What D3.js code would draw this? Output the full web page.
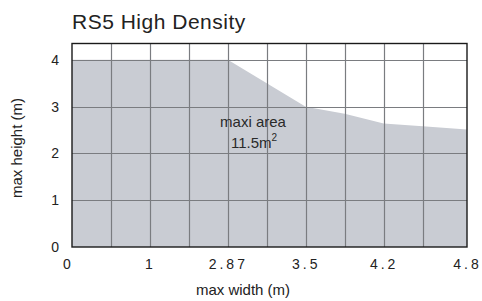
<!DOCTYPE html>
<html>
<head>
<meta charset="utf-8">
<script src="https://cdn.jsdelivr.net/npm/d3@7"></script>
<style>
  body { margin: 0; background: #fff; }
  svg { display: block; font-family: "Liberation Sans", Arial, sans-serif; }
</style>
</head>
<body>
<div id="chart"></div>
<script>
// grid columns are in "cell" units; the last column is a bit wider than the rest
var profileX = [0, 4, 6, 7, 8, 9, 10.14];
var profileY = [4, 4, 3.0, 2.85, 2.64, 2.58, 2.51];

var xTickPos = [0, 2, 4, 6, 8, 10.14];
var xTickLabels = ['0', '1', '2.87', '3.5', '4.2', '4.8'];
var yTicks = [0, 1, 2, 3, 4];
var xGrid = [1, 2, 3, 4, 5, 6, 7, 8, 9];
var yGrid = [1, 2, 3, 4];

var W = 482, H = 301;
var margin = {top: 43.5, right: 15, bottom: 54, left: 72};

var svg = d3.select('#chart').append('svg')
    .attr('width', W)
    .attr('height', H);

var x = d3.scaleLinear()
    .domain([0, 10.14])
    .range([margin.left, W - margin.right]);

var y = d3.scaleLinear()
    .domain([0, 4.35])
    .range([H - margin.bottom, margin.top]);

svg.append('text')
    .attr('x', 72)
    .attr('y', 29)
    .attr('font-size', '21px')
    .attr('letter-spacing', '0.5px')
    .attr('fill', '#222')
    .text('RS5 High Density');

var pts = profileX.map((d, i) => ({x: d, y: profileY[i]}));

var area = d3.area()
    .x(d => x(d.x))
    .y0(y(0))
    .y1(d => y(d.y));

svg.append('path')
    .datum(pts)
    .attr('fill', '#c9ccd3')
    .attr('d', area);

var grid = svg.append('g').attr('class', 'grid');

grid.selectAll('.vx')
    .data(xGrid)
  .enter().append('line')
    .attr('class', 'vx')
    .attr('x1', d => Math.round(x(d)) + 0.5)
    .attr('x2', d => Math.round(x(d)) + 0.5)
    .attr('y1', y.range()[1])
    .attr('y2', y.range()[0])
    .style('stroke', '#7a7c80')
    .style('stroke-width', 1.2);

grid.selectAll('.hy')
    .data(yGrid)
  .enter().append('line')
    .attr('class', 'hy')
    .attr('x1', x.range()[0])
    .attr('x2', x.range()[1])
    .attr('y1', d => Math.round(y(d)) + 0.5)
    .attr('y2', d => Math.round(y(d)) + 0.5)
    .style('stroke', '#7a7c80')
    .style('stroke-width', 1.2);

svg.append('rect')
    .attr('x', x.range()[0])
    .attr('y', y.range()[1])
    .attr('width', x.range()[1] - x.range()[0])
    .attr('height', y.range()[0] - y.range()[1])
    .attr('fill', 'none')
    .style('stroke', '#1a1a1a')
    .style('stroke-width', 1.4);

// axes: only labels are drawn, the frame above plays the axis line
var yAxis = svg.append('g')
    .attr('transform', 'translate(' + (margin.left - 13) + ',0)')
    .call(d3.axisLeft(y).tickValues(yTicks).tickSize(0).tickPadding(0)
        .tickFormat(d3.format('d')));
yAxis.select('.domain').remove();
yAxis.selectAll('text')
    .attr('font-family', '"Liberation Sans", Arial, sans-serif')
    .attr('font-size', '14px')
    .attr('fill', '#222');

var xAxis = svg.append('g')
    .attr('transform', 'translate(0,' + (H - margin.bottom + 12) + ')')
    .call(d3.axisBottom(x).tickValues(xTickPos).tickSize(0).tickPadding(0)
        .tickFormat((d, i) => xTickLabels[i]));
xAxis.select('.domain').remove();
xAxis.selectAll('text')
    .attr('font-family', '"Liberation Sans", Arial, sans-serif')
    .attr('font-size', '14px')
    .attr('letter-spacing', '3px')
    .attr('fill', '#222');
xAxis.selectAll('.tick').filter((d, i) => i === 0)
    .select('text').attr('dx', '-4');

svg.append('text')
    .attr('x', 243)
    .attr('y', 295)
    .attr('text-anchor', 'middle')
    .attr('font-size', '15px')
    .attr('fill', '#222')
    .text('max width (m)');

svg.append('text')
    .attr('transform', 'translate(22,' + 148 + ') rotate(-90)')
    .attr('text-anchor', 'middle')
    .attr('font-size', '15px')
    .attr('fill', '#222')
    .text('max height (m)');

var note = svg.append('text')
    .attr('text-anchor', 'middle')
    .attr('font-size', '15px')
    .attr('fill', '#2a2a2a');
note.append('tspan')
    .attr('x', 253)
    .attr('y', 127)
    .text('maxi area');
note.append('tspan')
    .attr('x', 254)
    .attr('y', 148)
    .text('11.5m');
note.append('tspan')
    .attr('dy', -7)
    .attr('font-size', '10px')
    .text('2');
</script>
</body>
</html>
